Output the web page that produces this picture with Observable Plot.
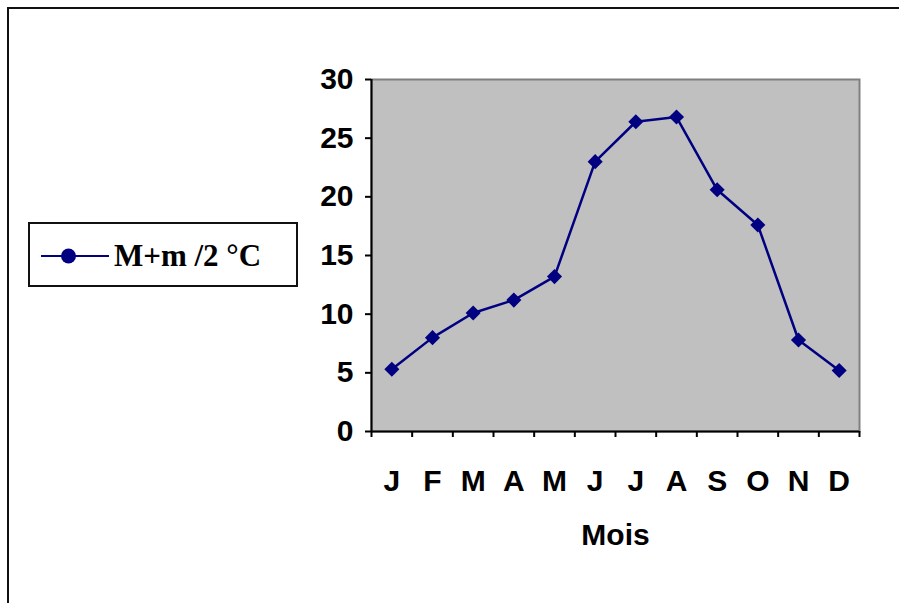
<!DOCTYPE html>
<html>
<head>
<meta charset="utf-8">
<script src="https://cdn.jsdelivr.net/npm/d3@7"></script>
<script src="https://cdn.jsdelivr.net/npm/@observablehq/plot@0.6"></script>
<style>
  html, body { margin: 0; padding: 0; background: #fff; }
  #wrap { position: relative; width: 899px; height: 603px; overflow: hidden; }
  #border { position: absolute; left: 7px; top: 7px; width: 1000px; height: 1000px;
            border-left: 2px solid #111; border-top: 2px solid #111; box-sizing: border-box; }
  #legend { position: absolute; left: 28px; top: 222px; width: 270px; height: 65px;
            border: 2px solid #111; box-sizing: border-box; background: #fff; }
  #legend svg { position: absolute; left: 0; top: 0; overflow: visible; }
  #chart { position: absolute; left: 0; top: 0; }
</style>
</head>
<body>
<div id="wrap">
  <div id="border"></div>
  <div id="chart"></div>
  <div id="legend"></div>
</div>
<script>
// Monthly mean temperature (M+m)/2 in °C
const months = ["J", "F", "M", "A", "M", "J", "J", "A", "S", "O", "N", "D"];
const temperature = [5.3, 8.0, 10.1, 11.2, 13.2, 23.0, 26.4, 26.8, 20.6, 17.6, 7.8, 5.2];
const yTicks = [0, 5, 10, 15, 20, 25, 30];
const seriesName = "M+m /2 °C";
const xTitle = "Mois";

const data = months.map((m, i) => ({i, month: m, value: temperature[i]}));
// tick marks sit on the boundaries between months
const boundaries = d3.range(months.length + 1).map(k => k - 0.5);

const navy = "#000080";
const font = "'Liberation Sans', Arial, sans-serif";
const fs = 30;

const chart = Plot.plot({
  width: 899,
  height: 603,
  marginLeft: 371,
  marginRight: 40,
  marginTop: 79,
  marginBottom: 172,
  style: {fontFamily: font, fontWeight: "bold", fontSize: fs + "px", color: "#000", background: "transparent", overflow: "visible"},
  x: {domain: [-0.5, months.length - 0.5]},
  y: {domain: [0, 30]},
  marks: [
    Plot.frame({fill: "#c0c0c0", stroke: "#808080", strokeWidth: 2}),
    Plot.axisY({ticks: yTicks, tickSize: 6, tickPadding: 12, strokeWidth: 2, label: null, fontSize: fs}),
    Plot.axisX({ticks: boundaries, tickSize: 6, tickFormat: () => "", strokeWidth: 2, label: null}),
    Plot.ruleY([0], {strokeWidth: 2}),
    Plot.ruleX([-0.5], {strokeWidth: 2}),
    Plot.text(data, {x: "i", text: "month", frameAnchor: "bottom", lineAnchor: "middle", dy: 50, fontSize: fs}),
    Plot.text([xTitle], {frameAnchor: "bottom", lineAnchor: "middle", dy: 104, fontSize: fs}),
    Plot.line(data, {x: "i", y: "value", stroke: navy, strokeWidth: 2.5}),
    Plot.dot(data, {x: "i", y: "value", symbol: "diamond2", r: 6.8, fill: navy, stroke: "none"})
  ]
});
document.getElementById("chart").appendChild(chart);

// Legend: line with a round marker, then the series name
const leg = d3.select("#legend").append("svg").attr("width", 270).attr("height", 65);
leg.append("line").attr("x1", 11).attr("x2", 79).attr("y1", 32).attr("y2", 32)
  .attr("stroke", navy).attr("stroke-width", 2);
leg.append("circle").attr("cx", 38.5).attr("cy", 32).attr("r", 7.5).attr("fill", navy);
leg.append("text").attr("x", 84).attr("y", 42)
  .attr("font-family", "'Liberation Serif', 'Times New Roman', serif")
  .attr("font-weight", "bold").attr("font-size", 31)
  .text(seriesName);
</script>
</body>
</html>
